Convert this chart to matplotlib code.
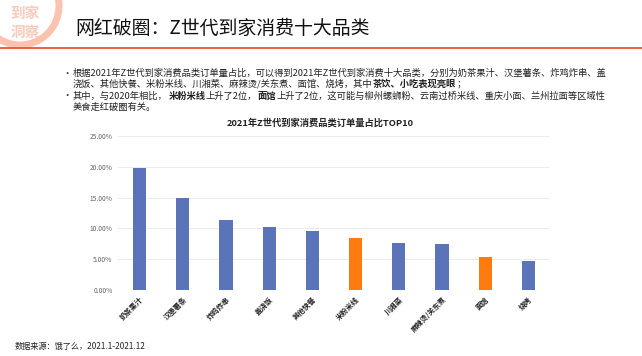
import matplotlib
matplotlib.use("Agg")
import matplotlib.pyplot as plt
from matplotlib.patches import Circle
from matplotlib.ticker import FuncFormatter

plt.rcParams['font.family'] = ['Noto Sans CJK SC', 'DejaVu Sans']

categories = ['奶茶果汁', '汉堡薯条', '炸鸡炸串', '盖浇饭', '其他快餐',
              '米粉米线', '川湘菜', '麻辣烫/关东煮', '面馆', '烧烤']
values = [19.8, 14.9, 11.4, 10.2, 9.6, 8.5, 7.7, 7.4, 5.4, 4.75]
highlight = [False, False, False, False, False, True, False, False, True, False]
yticks = [0, 5, 10, 15, 20, 25]

BLUE = '#5b73b9'
ORANGE = '#ff7b0f'

W, H = 642, 356
fig = plt.figure(figsize=(W / 100, H / 100), dpi=100)

def fx(x): return x / W
def fy(y): return 1 - y / H

bg = fig.add_axes([0, 0, 1, 1], zorder=0)
bg.set_xlim(0, W); bg.set_ylim(H, 0); bg.axis('off')
bg.add_patch(Circle((20, 6), 39, fill=False, lw=5.0, ec='#fbc2b0'))
bg.text(25, 13, '到家', ha='center', va='center', fontsize=10.5, color='#f9cbbd', fontweight='bold')
bg.text(25, 32, '洞察', ha='center', va='center', fontsize=10.5, color='#f9cbbd', fontweight='bold')
bg.plot([0, W], [48, 48], color='#e8623c', lw=1.4)
bg.text(75, 28, '网红破圈：Z世代到家消费十大品类', ha='left', va='center', fontsize=13.6, color='#111111')

fig.canvas.draw()
renderer = fig.canvas.get_renderer()
FS = 6.7
lines = [
    (True, [('根据2021年Z世代到家消费品类订单量占比，可以得到2021年Z世代到家消费十大品类，分别为奶茶果汁、汉堡薯条、炸鸡炸串、盖', False)]),
    (False, [('浇饭、其他快餐、米粉米线、川湘菜、麻辣烫/关东煮、面馆、烧烤，其中', False), ('茶饮、小吃表现亮眼', True), ('；', False)]),
    (True, [('其中，与2020年相比，', False), ('米粉米线', True), ('上升了2位，', False), ('面馆', True),
            ('上升了2位，这可能与柳州螺蛳粉、云南过桥米线、重庆小面、兰州拉面等区域性', False)]),
    (False, [('美食走红破圈有关。', False)]),
]
ys = [73, 84, 96, 107]
for (bullet, segs), y in zip(lines, ys):
    if bullet:
        bg.text(67, y, '•', ha='center', va='center', fontsize=FS, color='#222222')
    x = 73
    for s, b in segs:
        t = bg.text(x, y, s, ha='left', va='center', fontsize=FS, color='#222222',
                    fontweight='bold' if b else 'normal')
        bb = t.get_window_extent(renderer=renderer)
        x += bb.width + 0.5

bg.text(320, 123, '2021年Z世代到家消费品类订单量占比TOP10', ha='center', va='center',
        fontsize=6.7, fontweight='bold', color='#222222')
bg.text(15, 346, '数据来源：饿了么，2021.1-2021.12', ha='left', va='center', fontsize=5.9, color='#222222')

ax = fig.add_axes([fx(118), fy(290), fx(550) - fx(118), fy(136) - fy(290)], zorder=1)
ax.patch.set_alpha(0)
colors = [ORANGE if h else BLUE for h in highlight]
ax.bar(range(len(categories)), values, width=0.31, color=colors, zorder=3)
ax.set_xlim(-0.5, len(categories) - 0.5)
ax.set_ylim(0, 25)
ax.set_yticks(yticks)
ax.yaxis.set_major_formatter(FuncFormatter(lambda v, p: f'{v:.2f}%'))
ax.grid(axis='y', color='#e8e8e8', lw=0.6, zorder=0)
for s in ax.spines.values():
    s.set_visible(False)
ax.tick_params(axis='both', length=0, labelsize=4.8, labelcolor='#666666', pad=4)
ax.set_xticks(range(len(categories)))
ax.set_xticklabels(categories, rotation=45, ha='right', rotation_mode='anchor',
                   fontsize=5.2, fontweight='bold', color='#222222')
ax.tick_params(axis='x', pad=4)

fig.savefig('out.png', dpi=100)
